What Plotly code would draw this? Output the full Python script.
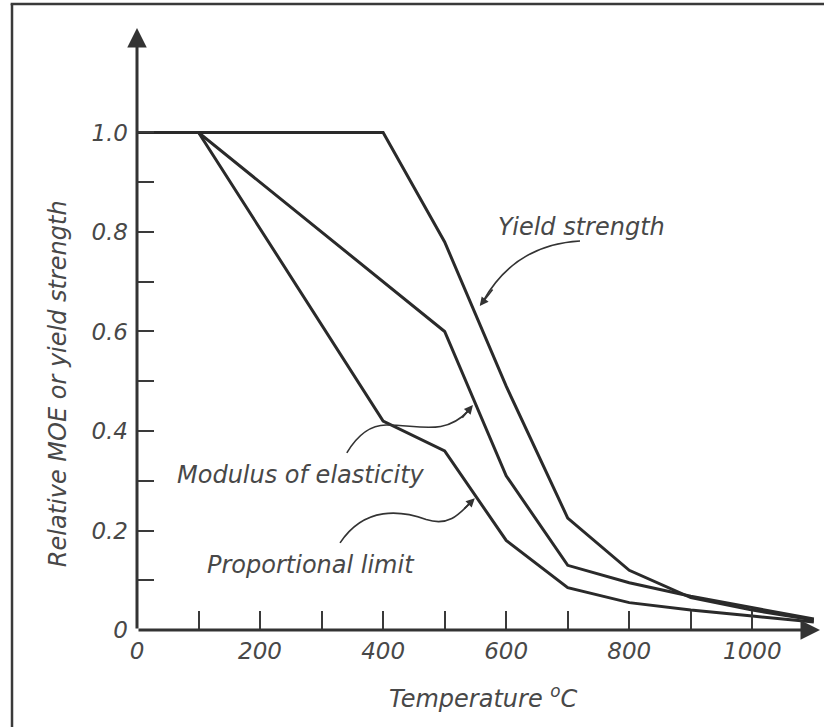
import plotly.graph_objects as go

# ---- data ----
yield_T = [0, 400, 500, 600, 700, 800, 900, 1000, 1100]
yield_v = [1.0, 1.0, 0.78, 0.49, 0.225, 0.12, 0.065, 0.04, 0.02]

moe_T = [0, 100, 500, 600, 700, 800, 900, 1000, 1100]
moe_v = [1.0, 1.0, 0.60, 0.31, 0.13, 0.095, 0.068, 0.045, 0.022]

pl_T = [0, 100, 400, 500, 600, 700, 800, 900, 1000, 1100]
pl_v = [1.0, 1.0, 0.42, 0.36, 0.18, 0.085, 0.055, 0.04, 0.028, 0.016]

x_tickvals = [0, 100, 200, 300, 400, 500, 600, 700, 800, 900, 1000]
x_ticktext = ["0", "", "200", "", "400", "", "600", "", "800", "", "1000"]
y_tickvals = [0, 0.1, 0.2, 0.3, 0.4, 0.5, 0.6, 0.7, 0.8, 0.9, 1.0]
y_ticktext = ["0", "", "0.2", "", "0.4", "", "0.6", "", "0.8", "", "1.0"]

x_title = "Temperature <sup>o</sup>C"
y_title = "Relative MOE or yield strength"
label_yield = "Yield strength"
label_moe = "Modulus of elasticity"
label_pl = "Proportional limit"

# ---- styling ----
LINE = "#2a2a2a"
TXT = "#484848"
FONT = "DejaVu Sans"
FS_TICK = 23
FS_LAB = 24

fig = go.Figure()
for T, v in [(yield_T, yield_v), (moe_T, moe_v), (pl_T, pl_v)]:
    fig.add_trace(go.Scatter(x=T, y=v, mode="lines",
                             line=dict(color=LINE, width=3),
                             showlegend=False, hoverinfo="skip", cliponaxis=False))

XMAX, YMAX = 1110, 1.21

axis_common = dict(showgrid=False, zeroline=False, showline=False,
                   ticks="inside", tickwidth=2, tickcolor="#3a3a3a",
                   tickfont=dict(family=FONT, size=FS_TICK, color=TXT, style="italic"))

fig.update_xaxes(range=[0, XMAX], tickmode="array", tickvals=x_tickvals,
                 ticktext=x_ticktext, ticklen=19, ticklabelstandoff=5, **axis_common)
fig.update_yaxes(range=[0, YMAX], tickmode="array", tickvals=y_tickvals,
                 ticktext=y_ticktext, ticklen=17, ticklabelstandoff=8, **axis_common)

ann = []
# axis lines with arrowheads
ann.append(dict(x=XMAX, y=0, ax=0, ay=0, xref="x", yref="y", axref="x", ayref="y",
                text="", showarrow=True, arrowhead=2, arrowsize=1.3, arrowwidth=3,
                arrowcolor="#333333"))
ann.append(dict(x=0, y=YMAX, ax=0, ay=0, xref="x", yref="y", axref="x", ayref="y",
                text="", showarrow=True, arrowhead=2, arrowsize=1.3, arrowwidth=3,
                arrowcolor="#333333"))

lab_font = dict(family=FONT, size=FS_LAB, color=TXT, style="italic")

# axis titles
ann.append(dict(text=x_title, xref="paper", yref="paper", x=0.507, y=-0.111,
                xanchor="center", yanchor="middle", showarrow=False, font=lab_font))
ann.append(dict(text=y_title, xref="paper", yref="paper", x=-0.1157, y=0.41,
                xanchor="center", yanchor="middle", textangle=-90, showarrow=False,
                font=lab_font))

# curve labels
ann.append(dict(text=label_yield, x=722, y=0.81, xref="x", yref="y",
                xanchor="center", yanchor="middle", showarrow=False, font=lab_font))
ann.append(dict(text=label_moe, x=266, y=0.312, xref="x", yref="y",
                xanchor="center", yanchor="middle", showarrow=False, font=lab_font))
ann.append(dict(text=label_pl, x=283, y=0.13, xref="x", yref="y",
                xanchor="center", yanchor="middle", showarrow=False, font=lab_font))

# arrowheads of the callouts
for tip, off in [((557, 0.651), (14, -18)), ((546, 0.452), (-12, 14)), ((549, 0.265), (-12, 12))]:
    ann.append(dict(x=tip[0], y=tip[1], ax=off[0], ay=off[1], xref="x", yref="y",
                    text="", showarrow=True, arrowhead=2, arrowsize=1.1, arrowwidth=1.6,
                    arrowcolor="#333333"))

shapes = []
# callout curves (data coordinates)
callouts = [
    "M 720,0.782 Q 615,0.775 563,0.662",
    "M 341,0.356 Q 368,0.412 405,0.412 C 460,0.412 500,0.39 538,0.44",
    "M 330,0.175 C 370,0.25 430,0.24 470,0.222 C 505,0.208 522,0.23 542,0.256",
]
for p in callouts:
    shapes.append(dict(type="path", path=p, xref="x", yref="y",
                       line=dict(color="#333333", width=1.6)))
# frame of the scanned figure (top and left edges)
shapes.append(dict(type="line", xref="paper", yref="paper", x0=-0.185, x1=1.02,
                   y0=1.04, y1=1.04, line=dict(color="#3a3a3a", width=2.5)))
shapes.append(dict(type="line", xref="paper", yref="paper", x0=-0.183, x1=-0.183,
                   y0=1.04, y1=-0.2, line=dict(color="#3a3a3a", width=2.5)))

fig.update_layout(width=824, height=727, autosize=False,
                  margin=dict(l=137, r=4, t=28, b=97),
                  paper_bgcolor="white", plot_bgcolor="white",
                  annotations=ann, shapes=shapes, showlegend=False)

fig.write_html("out.html")
